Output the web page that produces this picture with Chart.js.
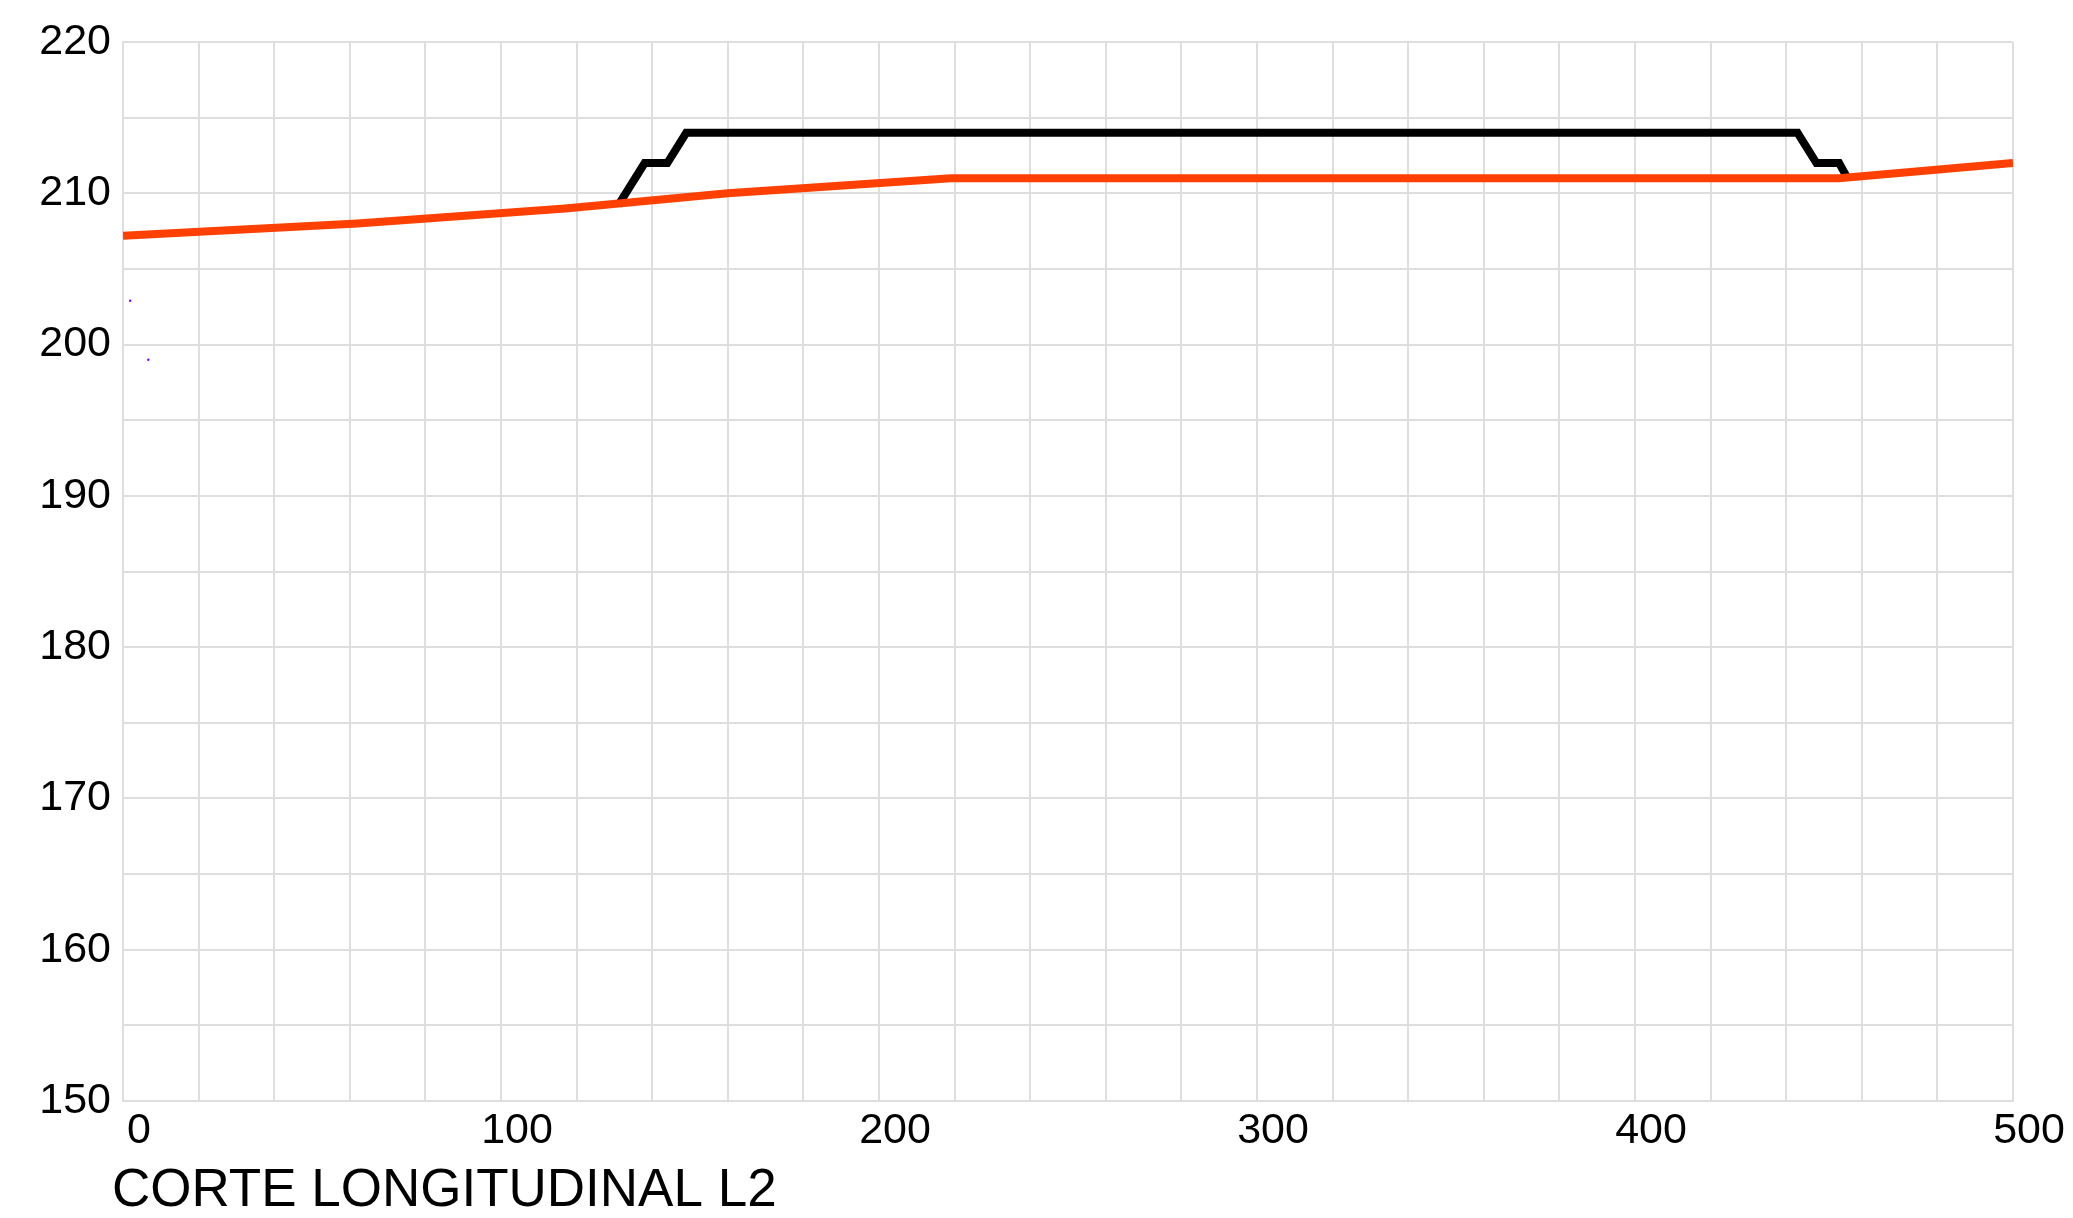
<!DOCTYPE html>
<html>
<head>
<meta charset="utf-8">
<script src="https://cdn.jsdelivr.net/npm/chart.js@4/dist/chart.umd.min.js"></script>
<style>
  body { margin: 0; background: #fff; }
  #wrap { width: 2073px; height: 1218px; position: relative; }
</style>
</head>
<body>
<div id="wrap"><canvas id="myChart"></canvas></div>
<script>
// ********** data ************
// terrain profile (orange)
const terrainX = [0, 62, 117, 160, 219, 454, 500];
const terrainY = [207.2, 208.0, 209.0, 210.0, 211.0, 211.0, 212.0];

// platform section (black)
const platformX = [131, 138, 144, 149, 443, 448, 454, 456];
const platformY = [209.2, 212.0, 212.0, 214.0, 214.0, 212.0, 212.0, 211.1];

// stray points (purple)
const strayX = [1.9, 6.7];
const strayY = [202.9, 199.0];

// axis ticks
const xTickLabels = [0, 100, 200, 300, 400, 500];
const yTickLabels = [150, 160, 170, 180, 190, 200, 210, 220];

const titleText = "CORTE LONGITUDINAL L2";

const toPoints = (xs, ys) => xs.map((x, i) => ({ x: x, y: ys[i] }));

const gridColor = "#dedede";
const font = "'Liberation Sans', Arial, sans-serif";

// caption under the x axis, a bit left of the plot edge
const captionPlugin = {
  id: "caption",
  afterDraw(chart) {
    const c = chart.ctx;
    c.save();
    c.fillStyle = "#000";
    c.font = "53px " + font;
    c.textAlign = "left";
    c.textBaseline = "alphabetic";
    c.fillText(titleText, chart.chartArea.left - 11, chart.chartArea.bottom + 105);
    c.restore();
  },
};

// ********** chart ************
const ctx = document.getElementById("myChart");
const myChart = new Chart(ctx, {
  type: "scatter",
  data: {
    datasets: [
      {
        data: toPoints(terrainX, terrainY),
        showLine: true,
        borderColor: "#ff4000",
        borderWidth: 8,
        pointRadius: 0,
        borderJoinStyle: "miter",
      },
      {
        data: toPoints(platformX, platformY),
        showLine: true,
        borderColor: "#000000",
        borderWidth: 8,
        pointRadius: 0,
        borderJoinStyle: "miter",
      },
      {
        data: toPoints(strayX, strayY),
        showLine: false,
        pointRadius: 1.2,
        pointBorderWidth: 0,
        backgroundColor: "#8000ff",
      },
    ],
  },
  plugins: [captionPlugin],
  options: {
    responsive: true,
    maintainAspectRatio: false,
    animation: false,
    layout: { padding: { left: 0, right: 60, top: 42, bottom: 0 } },
    plugins: {
      legend: { display: false },
      tooltip: { enabled: false },
    },
    scales: {
      x: {
        type: "linear",
        min: 0,
        max: 500,
        ticks: {
          stepSize: 20,
          color: "#000",
          padding: 4,
          labelOffset: 16,
          maxRotation: 0,
          autoSkip: false,
          font: { family: font, size: 43 },
          callback: (v) => (xTickLabels.includes(v) ? String(v) : ""),
        },
        grid: { color: gridColor, lineWidth: 2, drawTicks: false },
        border: { color: gridColor, width: 2 },
        afterFit: (scale) => {
          scale.height = 117;
        },
      },
      y: {
        type: "linear",
        min: 150,
        max: 220,
        ticks: {
          stepSize: 5,
          color: "#000",
          padding: 12,
          autoSkip: false,
          font: { family: font, size: 43 },
          callback: (v) => (yTickLabels.includes(v) ? String(v) : ""),
        },
        grid: { color: gridColor, lineWidth: 2, drawTicks: false },
        border: { color: gridColor, width: 2 },
        afterFit: (scale) => {
          scale.width = 123;
        },
      },
    },
  },
});
</script>
</body>
</html>
